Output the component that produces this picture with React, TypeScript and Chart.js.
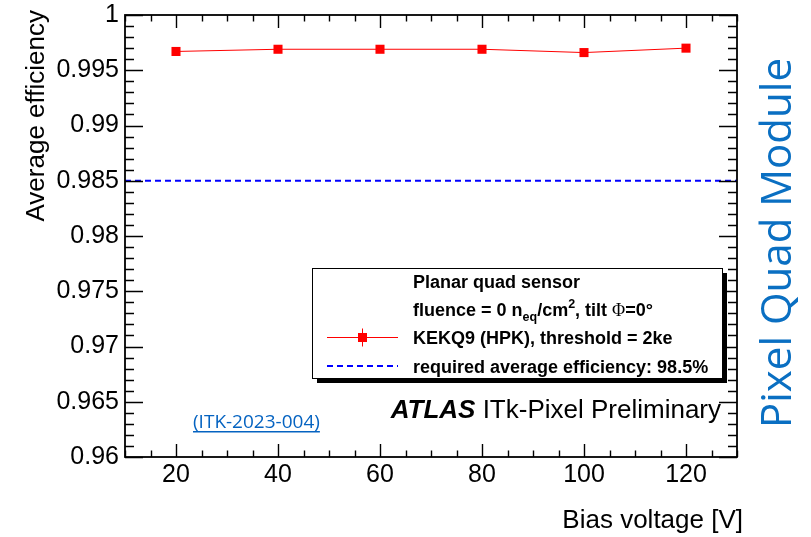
import React, { useEffect, useRef } from 'react';
import { Chart, registerables } from 'chart.js';

Chart.register(...registerables);

// ---- data ----
const biasVoltages = [20, 40, 60, 80, 100, 120];
const averageEfficiency = [0.9967, 0.9969, 0.9969, 0.9969, 0.9966, 0.997];
const requiredEfficiency = 0.985;
const xRange = [10, 130];
const yRange = [0.96, 1];
const xTickValues = [20, 40, 60, 80, 100, 120];
const yTickValues = [0.96, 0.965, 0.97, 0.975, 0.98, 0.985, 0.99, 0.995, 1];
const xMinorStep = 5;
const yMinorStep = 0.001;
const xTitle = 'Bias voltage [V]';
const yTitle = 'Average efficiency';
const seriesLabel = 'KEKQ9 (HPK), threshold = 2ke';
const requirementLabel = 'required average efficiency: 98.5%';
const legendHeader = 'Planar quad sensor';
const sideLabel = 'Pixel Quad Module';
const refLabel = '(ITK-2023-004)';

const SANS = '"Liberation Sans", Arial, Helvetica, sans-serif';

const rootStyle = {
  id: 'rootStyle',
  afterDraw(chart: any) {
    const { ctx, chartArea: a, scales } = chart;
    const x = scales.x;
    const y = scales.y;
    ctx.save();

    // ticks on all four sides
    ctx.strokeStyle = '#000';
    ctx.lineWidth = 1.4;
    ctx.beginPath();
    const nx = Math.round((xRange[1] - xRange[0]) / xMinorStep);
    for (let i = 0; i <= nx; i++) {
      const v = xRange[0] + i * xMinorStep;
      const major = xTickValues.some((t) => Math.abs(t - v) < 1e-6);
      const len = major ? 13 : 6.5;
      const px = Math.round(x.getPixelForValue(v)) + 0.5;
      ctx.moveTo(px, a.bottom);
      ctx.lineTo(px, a.bottom - len);
      ctx.moveTo(px, a.top);
      ctx.lineTo(px, a.top + len);
    }
    const ny = Math.round((yRange[1] - yRange[0]) / yMinorStep);
    for (let i = 0; i <= ny; i++) {
      const v = yRange[0] + i * yMinorStep;
      const major = yTickValues.some((t) => Math.abs(t - v) < 1e-7);
      const len = major ? 18 : 9;
      const py = Math.round(y.getPixelForValue(v)) + 0.5;
      ctx.moveTo(a.left, py);
      ctx.lineTo(a.left + len, py);
      ctx.moveTo(a.right, py);
      ctx.lineTo(a.right - len, py);
    }
    ctx.stroke();

    // frame
    ctx.lineWidth = 1.8;
    ctx.strokeRect(a.left, a.top, a.right - a.left, a.bottom - a.top);

    // axis titles
    ctx.fillStyle = '#000';
    ctx.font = `26px ${SANS}`;
    ctx.textAlign = 'right';
    ctx.textBaseline = 'alphabetic';
    ctx.fillText(xTitle, a.right + 6, 528);
    ctx.save();
    ctx.translate(44, 10);
    ctx.rotate(-Math.PI / 2);
    ctx.textAlign = 'right';
    ctx.fillText(yTitle, 0, 0);
    ctx.restore();

    // legend box with shadow
    const L = { l: 312, t: 268, r: 722, b: 378 };
    ctx.fillStyle = '#000';
    ctx.fillRect(L.l + 5, L.t + 5, L.r - L.l, L.b - L.t);
    ctx.fillStyle = '#fff';
    ctx.fillRect(L.l, L.t, L.r - L.l, L.b - L.t);
    ctx.lineWidth = 1;
    ctx.strokeStyle = '#000';
    ctx.strokeRect(L.l + 0.5, L.t + 0.5, L.r - L.l, L.b - L.t);

    const tx = 413;
    const bold = (s: number) => `bold ${s}px ${SANS}`;
    ctx.fillStyle = '#000';
    ctx.textAlign = 'left';
    ctx.font = bold(18);
    ctx.fillText(legendHeader, tx, 288);

    // line 2 with sub/superscripts
    let cx = tx;
    const base2 = 316;
    const put = (s: string, font: string, dy: number) => {
      ctx.font = font;
      ctx.fillText(s, cx, base2 + dy);
      cx += ctx.measureText(s).width;
    };
    put('fluence = 0 n', bold(18), 0);
    put('eq', bold(12.5), 5);
    put('/cm', bold(18), 0);
    put('2', bold(12.5), -8);
    put(', tilt ', bold(18), 0);
    put('\u03A6', `18px "Liberation Serif", "DejaVu Serif", serif`, 0);
    put('=0\u00B0', bold(18), 0);

    ctx.font = bold(18);
    ctx.fillText(seriesLabel, tx, 344);
    ctx.fillText(requirementLabel, tx, 373);

    // legend symbols
    const ly = 337.5;
    ctx.strokeStyle = '#ff0000';
    ctx.lineWidth = 1;
    ctx.beginPath();
    ctx.moveTo(327, ly);
    ctx.lineTo(398, ly);
    ctx.moveTo(362.5, ly - 9);
    ctx.lineTo(362.5, ly + 9);
    ctx.stroke();
    ctx.fillStyle = '#ff0000';
    ctx.fillRect(358, ly - 4.5, 9, 9);
    ctx.strokeStyle = '#0000ff';
    ctx.lineWidth = 2;
    ctx.setLineDash([6, 4]);
    ctx.beginPath();
    ctx.moveTo(327, 366);
    ctx.lineTo(398, 366);
    ctx.stroke();
    ctx.setLineDash([]);

    // ATLAS label
    ctx.fillStyle = '#000';
    ctx.font = `italic bold 26px ${SANS}`;
    const atlasW = ctx.measureText('ATLAS').width;
    ctx.font = `26px ${SANS}`;
    const restW = ctx.measureText(' ITk-Pixel Preliminary').width;
    const ax = 721 - atlasW - restW;
    ctx.font = `italic bold 26px ${SANS}`;
    ctx.fillText('ATLAS', ax, 418);
    ctx.font = `26px ${SANS}`;
    ctx.fillText(' ITk-Pixel Preliminary', ax + atlasW, 418);

    // reference link
    ctx.fillStyle = '#0563c1';
    ctx.font = `19px "Open Sans", "Noto Sans", sans-serif`;
    ctx.fillText(refLabel, 193, 428);
    const rw = ctx.measureText(refLabel).width;
    ctx.fillRect(193, 431, rw, 1.5);

    // side label
    ctx.save();
    ctx.translate(791, 243);
    ctx.rotate(-Math.PI / 2);
    ctx.fillStyle = '#0a6fc2';
    ctx.font = `42px "Open Sans", "Noto Sans", sans-serif`;
    ctx.textAlign = 'center';
    ctx.fillText(sideLabel, 0, 0);
    ctx.restore();

    ctx.restore();
  },
};

export default function App() {
  const ref = useRef<HTMLCanvasElement | null>(null);
  useEffect(() => {
    document.body.style.margin = '0';
    const canvas = ref.current;
    if (!canvas) return;
    const chart = new Chart(canvas, {
      type: 'line',
      data: {
        datasets: [
          {
            label: seriesLabel,
            data: biasVoltages.map((v, i) => ({ x: v, y: averageEfficiency[i] })),
            borderColor: '#ff0000',
            backgroundColor: '#ff0000',
            borderWidth: 1,
            pointStyle: 'rect',
            pointRadius: 6.4,
            pointBorderWidth: 0,
            pointHoverRadius: 6.4,
          },
          {
            label: requirementLabel,
            data: [
              { x: xRange[0], y: requiredEfficiency },
              { x: xRange[1], y: requiredEfficiency },
            ],
            borderColor: '#0000ff',
            borderWidth: 2,
            borderDash: [6, 4],
            pointRadius: 0,
          },
        ],
      },
      options: {
        responsive: false,
        animation: false,
        events: [],
        layout: { padding: { top: 15, right: 74, left: 0, bottom: 0 } },
        plugins: { legend: { display: false }, tooltip: { enabled: false } },
        scales: {
          x: {
            type: 'linear',
            min: xRange[0],
            max: xRange[1],
            grid: { display: false, drawTicks: false },
            border: { display: false },
            afterBuildTicks: (s: any) => {
              s.ticks = xTickValues.map((value) => ({ value }));
            },
            afterFit: (s: any) => {
              s.height = 80;
              s.paddingLeft = 0;
              s.paddingRight = 0;
            },
            ticks: {
              color: '#000',
              font: { family: SANS, size: 25 },
              padding: 3,
              maxRotation: 0,
              autoSkip: false,
            },
          },
          y: {
            type: 'linear',
            min: yRange[0],
            max: yRange[1],
            grid: { display: false, drawTicks: false },
            border: { display: false },
            afterBuildTicks: (s: any) => {
              s.ticks = yTickValues.map((value) => ({ value }));
            },
            afterFit: (s: any) => {
              s.width = 125;
              s.paddingTop = 0;
              s.paddingBottom = 0;
            },
            ticks: {
              color: '#000',
              font: { family: SANS, size: 25 },
              padding: 6,
              autoSkip: false,
              callback: (v: any) => Number(v).toFixed(3).replace(/\.?0+$/, ''),
            },
          },
        },
      },
      plugins: [rootStyle],
    });
    return () => chart.destroy();
  }, []);
  return <canvas ref={ref} width={811} height={537} style={{ display: 'block' }} />;
}
